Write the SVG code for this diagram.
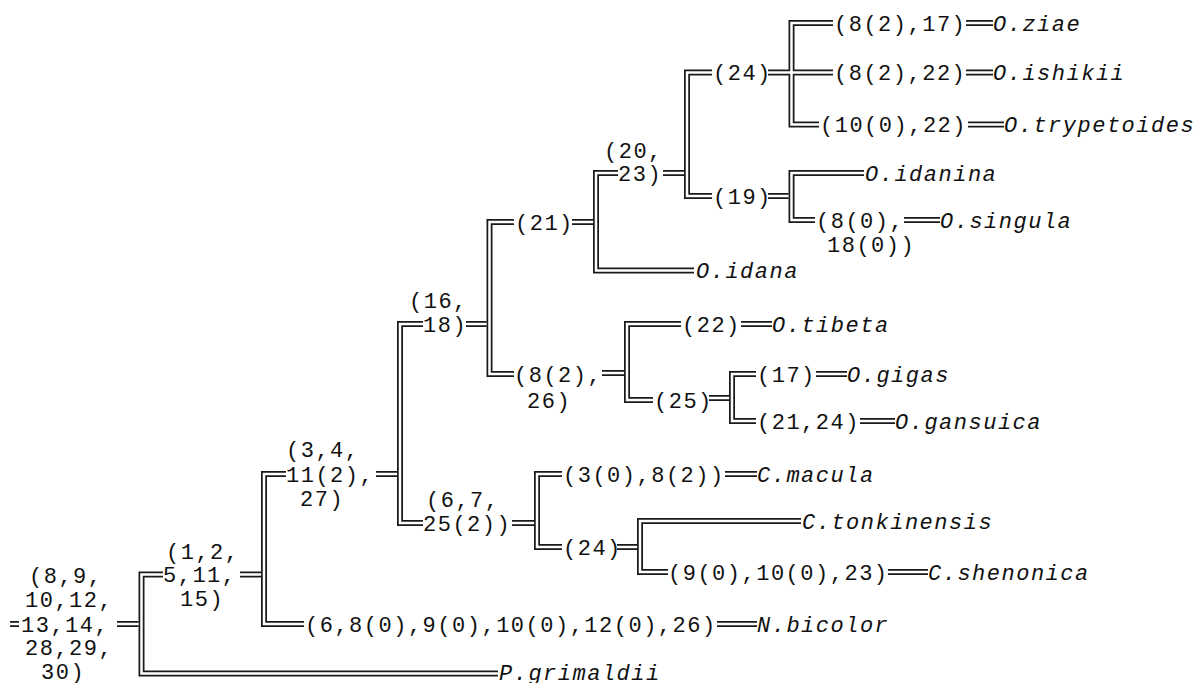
<svg xmlns="http://www.w3.org/2000/svg" xmlns:xlink="http://www.w3.org/1999/xlink" width="1198" height="683" viewBox="0 0 1198 683">
<style>
.o use{stroke:#1a1a1a;stroke-width:6;fill:none}
.i use{stroke:#fff;stroke-width:2.5;fill:none}
text{font-family:"Liberation Mono","DejaVu Sans Mono",monospace;font-size:22px;letter-spacing:1.5px;fill:#111}
.s{font-style:italic}
</style>
<defs>
<path id="c0" d="M10,624H19"/>
<path id="c1" d="M117,624H138.6"/>
<path id="c2" d="M163,574.5H141.5V673.5H498"/>
<path id="c3" d="M240,574.5H261.1"/>
<path id="c4" d="M286,474H264V624H304"/>
<path id="c5" d="M376,474H397.1"/>
<path id="c6" d="M423,324H400V523H423"/>
<path id="c7" d="M466,324H486.6"/>
<path id="c8" d="M514,222H489.5V374H514"/>
<path id="c9" d="M572,222H593.1"/>
<path id="c10" d="M618,173H596V270.5H694"/>
<path id="c11" d="M663,173H684.1"/>
<path id="c12" d="M712,72.5H687V196H712"/>
<path id="c13" d="M768,72.5H833"/>
<path id="c14" d="M833,23H791.5V124.5H819"/>
<path id="c15" d="M768,196H788.6"/>
<path id="c16" d="M864,173H791.5V220H815"/>
<path id="c17" d="M602,373H624.1"/>
<path id="c18" d="M681,324H627V400H653"/>
<path id="c19" d="M709,398H729.1"/>
<path id="c20" d="M756,374H732V421H756"/>
<path id="c21" d="M512,523H534.1"/>
<path id="c22" d="M562,474H537V547H562"/>
<path id="c23" d="M617,547H637.1"/>
<path id="c24" d="M801,521H640V572H668"/>
<path id="l1" d="M966,23H993"/>
<path id="l2" d="M966,72.5H993"/>
<path id="l3" d="M968,124.5H1004"/>
<path id="l4" d="M904,220H940"/>
<path id="l5" d="M741,324H772"/>
<path id="l6" d="M816,374H847"/>
<path id="l7" d="M860,421H895"/>
<path id="l8" d="M725,474H757"/>
<path id="l9" d="M888,572H928"/>
<path id="l10" d="M717,624H757"/>
</defs>
<g id="connectors">
<g class="o">
<use href="#c0"/><use href="#c1"/><use href="#c2"/><use href="#c3"/><use href="#c4"/><use href="#c5"/><use href="#c6"/><use href="#c7"/><use href="#c8"/><use href="#c9"/><use href="#c10"/><use href="#c11"/><use href="#c12"/><use href="#c13"/><use href="#c14"/><use href="#c15"/><use href="#c16"/><use href="#c17"/><use href="#c18"/><use href="#c19"/><use href="#c20"/><use href="#c21"/><use href="#c22"/><use href="#c23"/><use href="#c24"/>
<use href="#l1"/><use href="#l2"/><use href="#l3"/><use href="#l4"/><use href="#l5"/><use href="#l6"/><use href="#l7"/><use href="#l8"/><use href="#l9"/><use href="#l10"/>
</g>
<g class="i">
<use href="#c0"/><use href="#c1"/><use href="#c2"/><use href="#c3"/><use href="#c4"/><use href="#c5"/><use href="#c6"/><use href="#c7"/><use href="#c8"/><use href="#c9"/><use href="#c10"/><use href="#c11"/><use href="#c12"/><use href="#c13"/><use href="#c14"/><use href="#c15"/><use href="#c16"/><use href="#c17"/><use href="#c18"/><use href="#c19"/><use href="#c20"/><use href="#c21"/><use href="#c22"/><use href="#c23"/><use href="#c24"/>
<use href="#l1"/><use href="#l2"/><use href="#l3"/><use href="#l4"/><use href="#l5"/><use href="#l6"/><use href="#l7"/><use href="#l8"/><use href="#l9"/><use href="#l10"/>
</g>
</g>
<g id="n-root"><text x="29" y="583">(8,9,</text><text x="25" y="607">10,12,</text><text x="21" y="631.5">13,14,</text><text x="25" y="655">28,29,</text><text x="41" y="678.5">30)</text></g>
<g id="n-a"><text x="166" y="558.5">(1,2,</text><text x="163" y="582">5,11,</text><text x="180" y="606">15)</text></g>
<g id="n-b"><text x="286" y="457">(3,4,</text><text x="286" y="481.5">11(2),</text><text x="300" y="506">27)</text></g>
<g id="n-c"><text x="409" y="308">(16,</text><text x="423" y="331.5">18)</text></g>
<g id="n-e"><text x="515" y="229.5">(21)</text></g>
<g id="n-g"><text x="604" y="157.5">(20,</text><text x="618" y="180.5">23)</text></g>
<g id="n-h"><text x="713" y="80">(24)</text></g>
<g id="n-ziae"><text x="834" y="30.5">(8(2),17)</text><text class="s" x="993" y="30.5">O.ziae</text></g>
<g id="n-ishikii"><text x="834" y="80">(8(2),22)</text><text class="s" x="993" y="80">O.ishikii</text></g>
<g id="n-trypetoides"><text x="820" y="132">(10(0),22)</text><text class="s" x="1004" y="132">O.trypetoides</text></g>
<g id="n-i"><text x="713" y="203.5">(19)</text></g>
<g id="n-idanina"><text class="s" x="865" y="180.5">O.idanina</text></g>
<g id="n-singula"><text x="816" y="227.5">(8(0),</text><text x="827" y="251.5">18(0))</text><text class="s" x="940" y="227.5">O.singula</text></g>
<g id="n-idana"><text class="s" x="696" y="278">O.idana</text></g>
<g id="n-f"><text x="514" y="381.5">(8(2),</text><text x="527" y="407.5">26)</text></g>
<g id="n-tibeta"><text x="682" y="331.5">(22)</text><text class="s" x="772" y="331.5">O.tibeta</text></g>
<g id="n-j"><text x="654" y="407.5">(25)</text></g>
<g id="n-gigas"><text x="757" y="381.5">(17)</text><text class="s" x="847" y="381.5">O.gigas</text></g>
<g id="n-gansuica"><text x="757" y="428.5">(21,24)</text><text class="s" x="895" y="428.5">O.gansuica</text></g>
<g id="n-d"><text x="426" y="507">(6,7,</text><text x="423" y="530.5">25(2))</text></g>
<g id="n-macula"><text x="563" y="481.5">(3(0),8(2))</text><text class="s" x="757" y="481.5">C.macula</text></g>
<g id="n-k"><text x="563" y="554.5">(24)</text></g>
<g id="n-tonkinensis"><text class="s" x="802" y="528.5">C.tonkinensis</text></g>
<g id="n-shenonica"><text x="668" y="579.5">(9(0),10(0),23)</text><text class="s" x="928" y="579.5">C.shenonica</text></g>
<g id="n-bicolor"><text x="305" y="631.5">(6,8(0),9(0),10(0),12(0),26)</text><text class="s" x="757" y="631.5">N.bicolor</text></g>
<g id="n-grimaldii"><text class="s" x="499" y="679.5">P.grimaldii</text></g>
</svg>
